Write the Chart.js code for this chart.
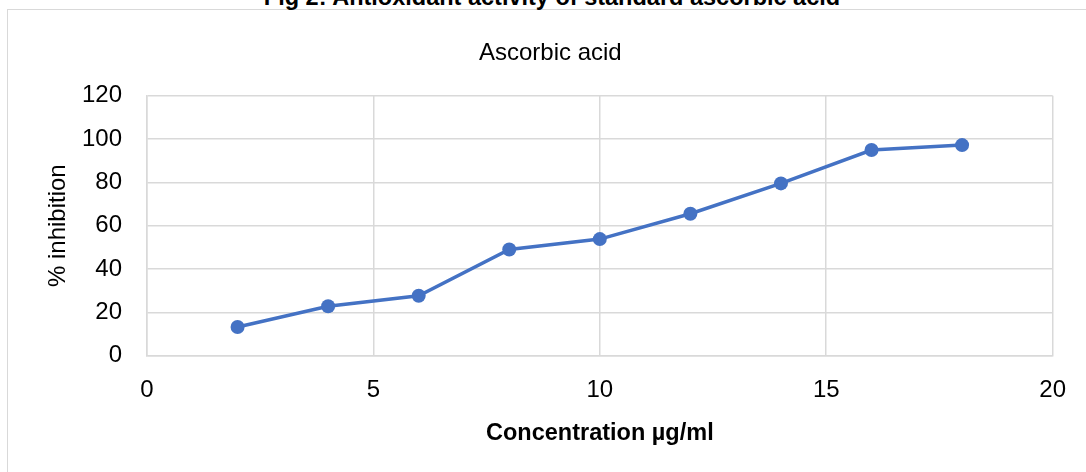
<!DOCTYPE html>
<html>
<head>
<meta charset="utf-8">
<script src="https://cdn.jsdelivr.net/npm/chart.js@4.4.0/dist/chart.umd.min.js"></script>
<style>
  body { margin: 0; background: #fff; overflow: hidden; }
  #wrap { position: relative; width: 1086px; height: 472px; overflow: hidden; }
  #frame { position: absolute; left: 7px; top: 9px; width: 1200px; height: 600px;
           border-left: 1.5px solid #d9d9d9; border-top: 1.5px solid #d9d9d9; }
  #figTitle { position: absolute; left: 9px; top: -15px; width: 1086px; text-align: center;
              font: bold 23.5px 'Liberation Sans', Arial, sans-serif; line-height: 24px;
              color: #000; white-space: nowrap; }
  canvas { position: absolute; left: 0; top: 0; }
</style>
</head>
<body>
<div id="wrap">
  <div id="frame"></div>
  <div id="figTitle">Fig 2: Antioxidant activity of standard ascorbic acid</div>
  <canvas id="chart" width="1086" height="472"></canvas>
</div>
<script>
// concentration (µg/ml) and % inhibition
var concentration = [2, 4, 6, 8, 10, 12, 14, 16, 18];
var inhibition = [13.2, 22.8, 27.6, 49.0, 53.8, 65.5, 79.5, 94.9, 97.2];

var seriesName = "Ascorbic acid";
var xLabel = "Concentration µg/ml";
var yLabel = "% inhibition";

var FONT = "'Liberation Sans', Arial, sans-serif";
var GRID = "#d9d9d9";
var BLUE = "#4472C4";

var points = [];
for (var i = 0; i < concentration.length; i++) {
    points.push({x: concentration[i], y: inhibition[i]});
}

var ctx = document.getElementById("chart");
var chart = new Chart(ctx, {
    type: 'line',
    data: {
        datasets: [{
            label: seriesName,
            data: points,
            borderColor: BLUE,
            backgroundColor: BLUE,
            borderWidth: 3.5,
            pointRadius: 7,
            pointHoverRadius: 7,
            pointBorderWidth: 0,
            fill: false,
            tension: 0
        }]
    },
    options: {
        responsive: false,
        animation: false,
        events: [],
        layout: {
            padding: {left: 43.6, right: 29, top: 0, bottom: 24}
        },
        plugins: {
            legend: {display: false},
            tooltip: {enabled: false},
            title: {
                display: true,
                text: seriesName,
                color: '#000',
                font: {family: FONT, size: 24, weight: 'normal', lineHeight: 1.2},
                padding: {top: 39, bottom: 27.9}
            }
        },
        scales: {
            x: {
                type: 'linear',
                min: 0,
                max: 20,
                ticks: {
                    stepSize: 5,
                    color: '#000',
                    padding: 20,
                    font: {family: FONT, size: 24, lineHeight: 1.2}
                },
                grid: {color: GRID, lineWidth: 1.5, drawTicks: false},
                border: {color: GRID, width: 1.5},
                title: {
                    display: true,
                    text: xLabel,
                    color: '#000',
                    font: {family: FONT, size: 23.5, weight: 'bold', lineHeight: 1.2},
                    padding: {top: 0, bottom: 0}
                },
                afterFit: function (scale) { scale.height = 92.4; }
            },
            y: {
                min: 0,
                max: 120,
                ticks: {
                    stepSize: 20,
                    color: '#000',
                    padding: 25,
                    font: {family: FONT, size: 24, lineHeight: 1.2}
                },
                grid: {color: GRID, lineWidth: 1.5, drawTicks: false},
                border: {color: GRID, width: 1.5},
                title: {
                    display: true,
                    text: yLabel,
                    color: '#000',
                    font: {family: FONT, size: 24, weight: 'normal', lineHeight: 1.2},
                    padding: {top: 0, bottom: 0}
                },
                afterFit: function (scale) { scale.width = 103.4; }
            }
        }
    }
});
</script>
</body>
</html>
